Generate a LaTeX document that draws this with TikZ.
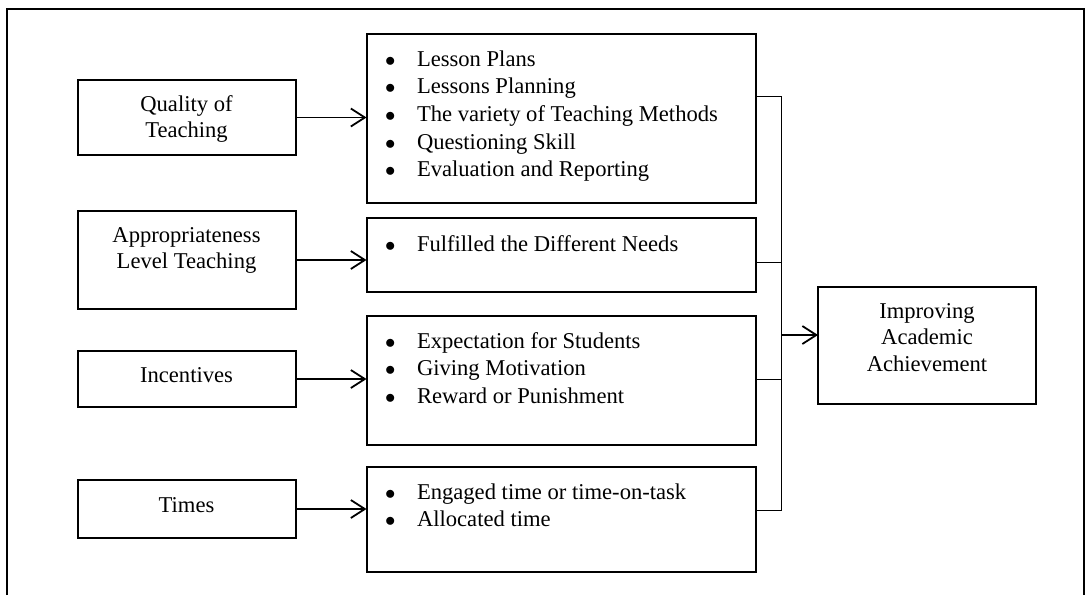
\documentclass[tikz,border=0pt]{standalone}
\usepackage{fontspec}
\setmainfont{Liberation Serif}
\usetikzlibrary{arrows.meta}
\newcommand{\bitem}[1]{\makebox[31pt][l]{\hspace{-1pt}$\bullet$}#1}
\begin{document}
\begin{tikzpicture}[x=1pt,y=-1pt,
  box/.style={draw,line width=2pt,inner sep=0pt,outer sep=0pt},
  lbox/.style={box,minimum width=218pt},
  mbox/.style={box,minimum width=389.5pt},
  txt/.style={inner sep=0pt,outer sep=0pt,font=\fontsize{22.6}{27.7}\selectfont},
  ctxt/.style={inner sep=0pt,outer sep=0pt,font=\fontsize{22.6}{26.5}\selectfont},
  arr/.style={line width=1.7pt,-{Straight Barb[length=14pt,width=18pt,line width=1.8pt]}},
  link/.style={line width=0.8pt},
  frame/.style={line width=2pt}]
\useasboundingbox (0,0) rectangle (1086,595);
% outer frame, open at the bottom edge
\draw[frame] (7,595) -- (7,9) -- (1083.5,9) -- (1083.5,595);

% factor boxes
\node[lbox,minimum height=75pt] (q) at (186.5,117.5) {};
\node[lbox,minimum height=98pt] (a) at (186.5,260) {};
\node[lbox,minimum height=56pt] (i) at (186.5,379) {};
\node[lbox,minimum height=58pt] (t) at (186.5,509) {};

\node[ctxt,anchor=base] (qt) at (186.5,111) {\begin{tabular}[t]{@{}c@{}}Quality of\\Teaching\end{tabular}};
\node[ctxt,anchor=base] (at) at (186.5,242) {\begin{tabular}[t]{@{}c@{}}Appropriateness\\Level Teaching\end{tabular}};
\node[ctxt,anchor=base] (it) at (186.5,382) {Incentives};
\node[ctxt,anchor=base] (tt) at (186.5,512) {Times};

% indicator boxes
\node[mbox,minimum height=169pt] (m1) at (561.25,118.5) {};
\node[mbox,minimum height=74pt] (m2) at (561.25,255) {};
\node[mbox,minimum height=129pt] (m3) at (561.25,380.5) {};
\node[mbox,minimum height=105pt] (m4) at (561.25,519.5) {};

\node[txt,anchor=base west] (m1t) at (386,66) {\begin{tabular}[t]{@{}l@{}}
\bitem{Lesson Plans}\\
\bitem{Lessons Planning}\\
\bitem{The variety of Teaching Methods}\\
\bitem{Questioning Skill}\\
\bitem{Evaluation and Reporting}\end{tabular}};
\node[txt,anchor=base west] (m2t) at (386,251) {\bitem{Fulfilled the Different Needs}};
\node[txt,anchor=base west] (m3t) at (386,348) {\begin{tabular}[t]{@{}l@{}}
\bitem{Expectation for Students}\\
\bitem{Giving Motivation}\\
\bitem{Reward or Punishment}\end{tabular}};
\node[txt,anchor=base west] (m4t) at (386,499) {\begin{tabular}[t]{@{}l@{}}
\bitem{Engaged time or time-on-task}\\
\bitem{Allocated time}\end{tabular}};

% outcome box
\node[box,minimum width=218pt,minimum height=117pt] (r) at (927,345.5) {};
\node[ctxt,anchor=base] (rt) at (927,318) {\begin{tabular}[t]{@{}c@{}}Improving\\Academic\\Achievement\end{tabular}};

% factor -> indicator arrows
\draw[arr] (q.east) -- (q.east -| m1.west);
\draw[arr] (a.east) -- (a.east -| m2.west);
\draw[arr] (i.east) -- (i.east -| m3.west);
\draw[arr] (t.east) -- (t.east -| m4.west);

% bracket joining the indicator boxes
\coordinate (j1) at (781,96);
\coordinate (j2) at (781,262);
\coordinate (j3) at (781,379);
\coordinate (j4) at (781,510);
\coordinate (j5) at (781,335);
\draw[link] (m1.east |- j1) -- (j1) -- (j4) -- (m4.east |- j4);
\draw[link] (m2.east |- j2) -- (j2);
\draw[link] (m3.east |- j3) -- (j3);
\draw[arr] (j5) -- (r.west |- j5);
\end{tikzpicture}
\end{document}
